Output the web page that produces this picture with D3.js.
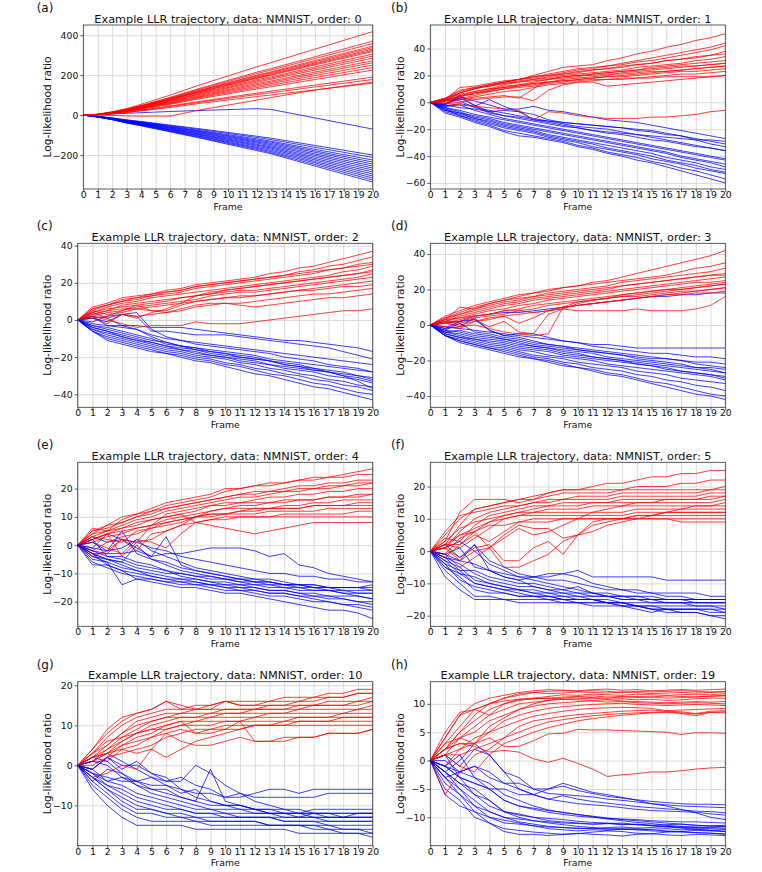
<!DOCTYPE html>
<html>
<head>
<meta charset="utf-8">
<script src="https://cdn.jsdelivr.net/npm/d3@7"></script>
<style>
body { margin: 0; background: #fff; }
text { font-family: "DejaVu Sans", sans-serif; }
</style>
</head>
<body>
<svg id="fig" width="762" height="872"></svg>
<script>

// ---- data ----
var letters = ["(a)", "(b)", "(c)", "(d)", "(e)", "(f)", "(g)", "(h)"];
var orders = [0, 1, 2, 3, 4, 5, 10, 19];
var frames = [0,1,2,3,4,5,6,7,8,9,10,11,12,13,14,15,16,17,18,19,20];
// panel (a) lines are straight, so only these frames were read
var framesA = [0,1,2,3,4,6,8,12,13,16,20];

var yTicksA = [-200, 0, 200, 400];
var yTicksB = [-60, -40, -20, 0, 20, 40];
var yTicksC = [-40, -20, 0, 20, 40];
var yTicksD = [-40, -20, 0, 20, 40];
var yTicksE = [-20, -10, 0, 10, 20];
var yTicksF = [-20, -10, 0, 10, 20];
var yTicksG = [-10, 0, 10, 20];
var yTicksH = [-10, -5, 0, 5, 10];

var redA = [
  [0,4,17,33,54,100,150,242,263,330,418],
  [0,4,15,30,48,89,133,215,233,292,370],
  [0,4,14,29,47,86,129,208,226,283,358],
  [0,3,14,28,45,83,124,200,217,273,345],
  [0,3,14,27,44,81,122,196,213,267,338],
  [0,3,13,26,43,79,119,191,208,261,330],
  [0,3,13,26,42,78,116,187,203,256,324],
  [0,3,13,25,41,76,114,184,200,251,318],
  [0,3,12,24,40,73,110,177,192,241,305],
  [0,3,12,24,38,71,106,171,186,233,295],
  [0,3,11,23,37,68,103,165,180,225,285],
  [0,3,11,22,35,65,98,158,171,215,272],
  [0,3,10,21,34,63,94,152,165,207,262],
  [0,3,10,20,33,60,90,145,158,198,250],
  [0,2,10,19,31,57,86,138,150,188,238],
  [0,2,9,18,29,54,81,131,142,178,225],
  [0,2,8,15,25,46,68,110,120,150,190],
  [0,2,7,14,23,43,64,103,112,141,178],
  [0,0,-2,-4,-5,-5,25,75,88,125,165],
  [0,2,6,13,21,38,58,93,101,126,160]
];
var blueA = [
  [0,-6,-14,-24,-32,-50,-68,-106,-116,-152,-200],
  [0,-6,-15,-25,-34,-53,-72,-112,-123,-161,-212],
  [0,-7,-16,-27,-36,-56,-77,-119,-131,-171,-225],
  [0,-7,-16,-28,-38,-59,-80,-125,-136,-179,-235],
  [0,-7,-17,-29,-39,-61,-83,-130,-142,-186,-245],
  [0,-8,-18,-31,-41,-64,-87,-135,-148,-194,-255],
  [0,-8,-19,-32,-42,-66,-90,-140,-154,-201,-265],
  [0,-8,-19,-33,-44,-69,-94,-146,-160,-209,-275],
  [0,-9,-20,-34,-46,-71,-97,-151,-165,-217,-285],
  [0,-9,-21,-35,-47,-74,-100,-156,-171,-224,-295],
  [0,-9,-21,-37,-49,-76,-104,-162,-177,-232,-305],
  [0,-9,-22,-38,-50,-79,-107,-167,-183,-239,-315],
  [0,-10,-23,-39,-52,-81,-111,-172,-189,-247,-325],
  [0,-10,-23,-40,-54,-84,-114,-178,-194,-255,-335],
  [0,2,5,9,12,18,23,32,28,-14,-70]
];

var redB = [
  [0,3,7,10,13,15,17,20,23,26,27,28,31,33,36,38,41,43,46,48,51],
  [0,2,11,12,14,16,17,19,21,23,25,26,27,29,31,33,35,37,39,41,44],
  [0,3,9,11,13,15,17,18,20,22,24,25,27,28,30,31,33,35,37,39,42],
  [0,1,7,10,12,14,16,17,19,21,22,24,25,27,28,29,31,32,34,35,38],
  [0,2,7,10,13,15,17,19,20,21,23,24,25,26,28,29,31,32,33,35,36],
  [0,2,6,8,10,13,15,17,18,20,21,22,23,24,26,27,28,29,31,32,34],
  [0,1,4,7,9,12,13,15,17,18,19,21,22,23,24,26,27,28,29,30,31],
  [0,0,3,5,8,10,12,14,15,17,18,19,20,22,23,24,25,26,27,28,29],
  [0,1,2,3,4,5,3,10,17,19,20,21,22,23,24,25,26,27,27,28,29],
  [0,1,5,6,9,11,12,13,15,16,17,18,19,20,21,22,23,24,25,26,27],
  [0,3,8,11,12,14,15,16,17,19,20,20,21,21,22,23,23,24,25,26,27],
  [0,2,4,7,8,10,11,12,14,15,17,18,19,19,20,21,22,23,23,24,25],
  [0,-1,2,4,6,8,9,11,13,14,15,16,17,17,18,19,20,21,21,22,23],
  [0,-1,0,2,3,4,4,1,9,13,15,15,12,13,14,15,16,17,18,19,20],
  [0,1,5,8,10,11,13,14,15,16,16,17,17,18,18,18,19,19,19,19,20],
  [0,-1,-2,-3,-4,-5,-6,-13,-7,-8,-10,-11,-12,-12,-12,-11,-11,-10,-9,-7,-6]
];
var blueB = [
  [0,-2,4,1,-2,-5,-5,-3,-6,-7,-9,-11,-13,-14,-15,-17,-19,-21,-23,-25,-27],
  [0,-3,-1,-3,2,-3,-7,-9,-13,-15,-16,-17,-18,-19,-21,-22,-24,-25,-27,-29,-31],
  [0,2,1,-4,-6,-8,-10,-12,-14,-16,-18,-19,-20,-22,-24,-26,-28,-30,-32,-34,-36],
  [0,-4,-6,-9,-11,-13,-15,-17,-19,-21,-23,-25,-27,-29,-31,-33,-35,-37,-39,-41,-43],
  [0,-5,-8,-10,-12,-15,-17,-19,-21,-23,-25,-27,-29,-31,-33,-35,-37,-40,-42,-44,-46],
  [0,-6,-9,-12,-14,-17,-19,-21,-24,-26,-28,-30,-32,-34,-36,-38,-41,-43,-45,-48,-50],
  [0,-7,-10,-13,-16,-19,-21,-23,-26,-28,-30,-33,-35,-37,-39,-42,-44,-46,-49,-51,-53],
  [0,-5,-10,-14,-17,-21,-23,-25,-27,-29,-32,-34,-37,-39,-41,-44,-46,-49,-51,-54,-57],
  [0,-8,-11,-15,-18,-22,-25,-26,-28,-30,-33,-35,-38,-40,-43,-45,-48,-51,-54,-57,-60],
  [0,-1,3,-2,-7,-10,-12,-14,-16,-18,-19,-21,-22,-23,-24,-25,-26,-27,-28,-28,-29],
  [0,-2,5,-3,-8,-10,-11,-13,-15,-17,-19,-21,-23,-24,-26,-28,-29,-31,-33,-34,-36],
  [0,-3,-2,-6,-9,-12,-14,-16,-18,-20,-22,-24,-26,-28,-30,-32,-34,-36,-38,-40,-42],
  [0,-4,-7,-11,-13,-16,-18,-20,-22,-24,-26,-28,-30,-32,-34,-36,-38,-41,-43,-45,-48],
  [0,-6,-8,-12,-15,-18,-20,-22,-25,-27,-29,-31,-34,-36,-38,-40,-43,-45,-47,-50,-52],
  [0,-2,-4,-5,-7,-6,-7,-13,-14,-15,-16,-17,-18,-19,-20,-21,-23,-25,-28,-31,-33]
];

var redC = [
  [0,7,9,12,13,14,16,17,19,20,21,22,23,25,26,28,29,31,33,35,37],
  [0,6,8,11,12,14,15,16,18,19,20,21,22,23,24,26,27,29,30,32,34],
  [0,6,8,10,12,13,15,16,18,19,20,21,22,23,24,25,26,27,28,29,30],
  [0,5,8,10,11,13,14,15,17,18,19,20,21,22,23,24,25,27,28,30,31],
  [0,4,7,9,10,12,13,14,15,16,17,18,19,20,21,22,23,24,26,27,29],
  [0,3,5,8,9,10,11,12,13,14,16,17,18,19,20,21,22,23,24,25,27],
  [0,1,-2,3,1,4,6,9,13,15,16,17,18,19,20,21,22,23,24,25,26],
  [0,4,6,7,8,9,10,12,13,14,15,16,16,17,18,19,20,21,22,23,25],
  [0,2,4,5,7,8,9,10,11,13,14,15,15,16,17,18,19,20,21,22,23],
  [0,5,3,4,6,7,8,9,10,11,12,12,13,14,15,16,17,18,19,20,21],
  [0,1,2,5,8,5,5,8,10,11,12,13,13,14,15,16,16,17,18,18,19],
  [0,2,1,3,2,3,4,5,7,8,9,9,10,11,12,13,14,14,15,16,17],
  [0,3,5,6,6,5,4,6,8,9,9,8,7,8,9,10,11,12,12,13,14],
  [0,2,0,-2,-4,-3,-3,-3,-1,-2,-2,-2,-1,0,1,2,3,4,5,5,6]
];
var blueC = [
  [0,-2,-3,-3,-3,-4,-4,-4,-5,-6,-7,-8,-9,-10,-11,-11,-12,-13,-14,-15,-17],
  [0,-1,2,3,2,-6,-6,-7,-8,-8,-8,-9,-10,-11,-12,-13,-14,-15,-17,-19,-21],
  [0,4,1,-3,-5,-8,-10,-11,-12,-13,-14,-15,-16,-17,-18,-19,-20,-21,-22,-23,-24],
  [0,-3,-5,-7,-9,-11,-12,-14,-15,-16,-17,-18,-19,-21,-22,-23,-24,-25,-26,-27,-28],
  [0,-4,-6,-8,-10,-12,-14,-15,-16,-18,-19,-20,-21,-22,-24,-25,-26,-28,-29,-30,-31],
  [0,-5,-7,-9,-11,-13,-15,-16,-18,-19,-20,-22,-23,-24,-26,-27,-28,-30,-31,-32,-34],
  [0,-5,-8,-10,-12,-14,-16,-17,-19,-20,-21,-23,-24,-26,-27,-29,-30,-32,-33,-35,-36],
  [0,-6,-9,-11,-13,-15,-17,-18,-20,-21,-23,-24,-26,-27,-29,-30,-32,-33,-35,-36,-38],
  [0,-6,-10,-12,-14,-16,-18,-19,-21,-22,-24,-25,-27,-29,-30,-32,-34,-35,-37,-39,-40],
  [0,-6,-11,-13,-15,-17,-18,-20,-22,-23,-25,-27,-29,-30,-32,-34,-36,-37,-39,-41,-43],
  [0,1,-1,3,4,-5,-9,-11,-13,-14,-15,-16,-17,-18,-20,-21,-22,-24,-25,-26,-28],
  [0,2,-3,-4,-5,-9,-12,-14,-15,-17,-18,-19,-20,-22,-23,-24,-26,-27,-28,-30,-32],
  [0,-3,-4,-6,-8,-10,-13,-14,-16,-17,-18,-20,-21,-22,-24,-25,-27,-28,-30,-31,-33],
  [0,-4,-6,-9,-11,-12,-14,-16,-17,-19,-20,-21,-22,-24,-25,-26,-27,-28,-30,-33,-37]
];

var redD = [
  [0,4,7,10,12,14,16,18,20,21,22,24,25,27,29,31,33,35,37,39,42],
  [0,5,8,11,13,15,17,18,19,21,22,23,24,25,26,27,28,30,32,33,35],
  [0,3,10,9,12,14,15,16,18,19,20,21,22,24,25,26,27,28,29,30,32],
  [0,4,6,9,11,13,14,16,17,18,19,20,21,22,23,24,25,26,27,28,29],
  [0,3,6,8,10,12,13,15,16,17,18,19,20,22,23,24,25,26,27,28,28],
  [0,2,5,7,9,11,12,14,15,16,17,18,19,20,21,22,23,24,25,26,27],
  [0,3,4,6,8,9,11,12,14,15,16,17,18,19,20,21,22,23,24,24,25],
  [0,1,3,5,6,8,9,11,12,13,14,15,16,17,18,19,20,20,21,22,23],
  [0,2,2,4,5,6,8,9,11,12,13,14,15,16,16,17,18,19,19,20,21],
  [0,1,0,2,3,5,6,7,8,10,11,12,13,14,15,16,17,17,18,18,19],
  [0,-1,-2,2,4,5,1,4,8,10,11,12,13,14,15,16,17,18,19,20,21],
  [0,1,-1,0,-2,-4,-5,-6,-5,10,13,14,15,16,17,18,19,20,21,22,23],
  [0,2,1,3,-1,2,-4,-5,6,9,12,14,15,17,18,19,20,21,22,23,24],
  [0,2,4,5,6,8,8,7,8,9,8,8,8,8,9,8,8,8,9,11,16]
];
var blueD = [
  [0,1,2,5,6,7,7,8,9,10,11,12,13,14,15,16,16,17,17,18,18],
  [0,-1,-2,-3,-4,-5,-6,-7,-8,-9,-10,-11,-11,-12,-13,-13,-13,-13,-13,-13,-13],
  [0,-2,-1,4,-3,-6,-5,-5,-7,-9,-10,-12,-13,-14,-15,-16,-16,-17,-18,-18,-19],
  [0,-3,-4,-6,-7,-8,-9,-11,-12,-13,-14,-15,-16,-17,-18,-19,-19,-20,-21,-21,-22],
  [0,-4,-5,-7,-8,-9,-11,-12,-13,-14,-15,-16,-18,-19,-20,-21,-22,-23,-24,-24,-25],
  [0,-4,-6,-8,-9,-10,-12,-13,-14,-16,-17,-18,-19,-20,-21,-22,-23,-24,-25,-26,-27],
  [0,-5,-7,-8,-10,-11,-13,-14,-15,-17,-18,-19,-20,-21,-22,-23,-25,-26,-27,-28,-29],
  [0,-5,-7,-9,-11,-12,-14,-15,-17,-18,-19,-20,-22,-23,-24,-25,-26,-27,-28,-29,-31],
  [0,-6,-8,-10,-12,-13,-15,-17,-18,-19,-21,-22,-23,-24,-26,-27,-28,-30,-31,-32,-33],
  [0,-6,-9,-11,-13,-14,-16,-18,-19,-21,-22,-24,-25,-26,-28,-29,-31,-32,-34,-35,-37],
  [0,-6,-9,-11,-13,-15,-17,-19,-20,-22,-24,-25,-27,-28,-30,-32,-33,-35,-37,-39,-40],
  [0,-6,-10,-12,-14,-16,-18,-19,-21,-23,-24,-26,-28,-29,-31,-33,-35,-37,-39,-40,-42],
  [0,-2,2,3,-3,-6,-7,-9,-11,-12,-14,-15,-16,-17,-19,-20,-21,-22,-24,-25,-27],
  [0,-3,1,-4,-5,-7,-8,-10,-11,-12,-13,-14,-15,-16,-17,-18,-19,-20,-22,-23,-24],
  [0,-4,-3,-5,-6,-8,-10,-12,-13,-15,-16,-18,-19,-20,-22,-23,-24,-26,-27,-28,-30]
];

var redE = [
  [0,5,6,8,10,12,14,15,16,17,19,20,21,21,22,23,24,24,25,26,27],
  [0,6,5,9,11,13,15,16,17,18,20,20,21,22,22,23,23,24,24,25,25],
  [0,4,7,8,10,11,13,14,15,16,17,18,19,19,20,21,21,22,22,23,23],
  [0,5,7,10,11,12,13,14,15,16,17,18,18,19,19,20,20,21,21,22,22],
  [0,3,5,7,9,10,12,13,14,15,16,17,17,18,19,19,20,20,21,21,22],
  [0,2,4,6,7,9,10,11,12,14,15,15,16,17,17,18,18,19,19,20,20],
  [0,1,3,4,6,7,9,10,11,12,13,14,14,15,15,16,16,17,17,18,18],
  [0,2,4,-4,1,7,11,12,13,14,14,15,15,15,16,16,16,17,17,17,18],
  [0,3,2,1,5,6,8,9,10,11,11,12,13,13,14,14,15,15,16,16,16],
  [0,-2,1,3,4,6,7,8,10,11,11,12,12,13,13,13,14,14,14,15,15],
  [0,-3,-3,2,-2,4,5,7,10,12,13,13,13,13,13,13,14,14,14,14,14],
  [0,2,4,5,6,7,8,9,10,10,11,11,11,12,12,12,12,13,13,13,13],
  [0,-4,-2,2,1,2,5,7,8,9,10,10,10,10,11,11,11,11,11,12,12],
  [0,1,-1,-3,2,1,-1,4,8,9,9,10,10,10,10,10,10,10,10,10,10],
  [0,4,5,6,8,9,10,11,8,7,6,5,4,5,6,7,8,8,8,8,8]
];
var blueE = [
  [0,-2,-3,-3,-2,-4,-3,-3,-2,-1,-1,-1,-2,-4,-3,-7,-8,-10,-11,-12,-13],
  [0,3,1,2,1,-1,-2,-4,-5,-6,-7,-8,-9,-10,-10,-11,-11,-12,-12,-13,-13],
  [0,-1,4,2,-1,-4,3,-7,-9,-10,-11,-12,-12,-13,-14,-14,-15,-15,-15,-15,-15],
  [0,-3,-5,-6,-8,-9,-10,-10,-11,-12,-12,-13,-14,-14,-15,-15,-15,-16,-16,-16,-16],
  [0,-5,-6,-8,-9,-10,-11,-12,-12,-13,-13,-14,-14,-15,-15,-16,-16,-16,-17,-17,-17],
  [0,-7,-7,-9,-10,-11,-12,-12,-13,-14,-14,-15,-15,-16,-16,-17,-17,-18,-18,-18,-19],
  [0,-4,-6,-14,-12,-12,-13,-13,-14,-14,-15,-16,-16,-17,-17,-18,-18,-19,-19,-20,-20],
  [0,-6,-8,-10,-11,-12,-13,-14,-14,-15,-16,-16,-17,-18,-18,-19,-20,-20,-21,-21,-22],
  [0,-3,-7,-9,-12,-13,-14,-15,-15,-16,-17,-17,-18,-19,-20,-21,-22,-23,-23,-24,-26],
  [0,2,-4,-5,-7,-8,-9,-10,-11,-11,-12,-13,-13,-14,-14,-14,-15,-15,-15,-15,-14],
  [0,-1,-2,5,-3,-5,-6,-8,-9,-10,-11,-12,-13,-13,-14,-15,-16,-16,-17,-18,-19],
  [0,-2,-4,-4,-6,-7,-9,-11,-12,-13,-14,-14,-15,-16,-16,-17,-18,-18,-19,-20,-21],
  [0,-3,-5,-7,-9,-11,-12,-13,-13,-14,-15,-15,-16,-17,-17,-18,-19,-20,-21,-22,-23],
  [0,-4,-5,-6,0,-5,-7,-9,-10,-11,-12,-12,-13,-13,-14,-14,-14,-15,-15,-15,-16],
  [0,1,-2,-1,2,-2,-4,-6,-8,-9,-10,-11,-12,-12,-13,-14,-14,-15,-16,-17,-17]
];

var redF = [
  [0,5,10,13,14,15,16,17,18,19,19,20,21,21,22,23,23,24,24,25,25],
  [0,3,12,16,16,16,15,16,18,19,19,19,19,19,20,20,20,21,21,22,22],
  [0,2,8,13,14,15,16,16,17,18,18,18,18,19,19,19,19,19,19,19,20],
  [0,6,11,12,13,14,14,15,16,16,17,17,17,18,18,18,18,18,18,19,19],
  [0,1,6,10,12,13,14,15,15,16,16,16,16,17,17,17,17,17,17,18,18],
  [0,4,3,8,11,12,13,14,14,15,15,15,15,16,16,16,16,16,16,16,17],
  [0,1,-3,0,1,4,7,5,6,8,10,12,13,14,15,15,16,16,16,17,17],
  [0,-1,4,6,9,11,12,13,14,14,14,15,15,15,15,15,15,15,15,15,16],
  [0,-1,-5,-2,1,-5,-5,-3,-1,3,5,6,8,9,10,11,12,13,14,14,15],
  [0,2,1,4,7,10,11,12,13,13,13,14,14,14,14,14,14,14,14,14,14],
  [0,3,7,9,10,11,12,12,12,12,12,12,12,12,13,13,13,13,13,13,13],
  [0,1,5,7,9,10,11,11,11,11,11,11,11,11,12,12,12,12,12,12,12],
  [0,2,2,6,1,5,8,7,7,4,5,8,9,10,11,11,12,12,12,12,12],
  [0,-2,2,5,3,6,9,10,10,10,10,10,10,10,11,11,11,11,11,11,11],
  [0,2,5,6,8,8,9,9,9,10,10,10,10,10,10,10,10,10,10,10,10],
  [0,1,-2,1,2,-3,-3,1,3,-1,5,9,10,10,10,10,10,9,9,9,9]
];
var blueF = [
  [0,-2,-3,-4,-6,-7,-8,-8,-8,-7,-6,-8,-8,-8,-8,-8,-9,-9,-9,-9,-9],
  [0,2,-2,2,-6,-8,-9,-8,-7,-7,-8,-10,-11,-12,-12,-13,-13,-13,-13,-14,-14],
  [0,-3,-5,-9,-10,-11,-12,-12,-13,-13,-14,-14,-14,-15,-15,-15,-15,-15,-15,-15,-15],
  [0,-5,-8,-12,-13,-13,-14,-14,-14,-15,-15,-15,-16,-16,-16,-16,-16,-16,-16,-16,-16],
  [0,-6,-10,-14,-14,-15,-15,-15,-15,-16,-16,-16,-16,-16,-17,-17,-17,-17,-17,-17,-17],
  [0,-8,-12,-15,-15,-15,-16,-16,-16,-16,-16,-17,-17,-17,-17,-18,-18,-18,-18,-18,-18],
  [0,-4,-6,-10,-11,-12,-13,-14,-14,-15,-15,-15,-16,-16,-17,-17,-18,-18,-18,-19,-19],
  [0,-3,-7,-8,-10,-11,-12,-13,-14,-14,-15,-15,-15,-16,-17,-18,-18,-19,-19,-20,-21],
  [0,-1,1,-5,-6,-8,-9,-11,-12,-13,-13,-14,-14,-15,-15,-15,-16,-16,-16,-16,-16],
  [0,1,3,0,-4,-6,-8,-9,-10,-11,-12,-13,-13,-14,-14,-14,-15,-15,-15,-15,-15],
  [0,-2,-4,-7,-9,-10,-11,-11,-12,-12,-13,-13,-14,-14,-15,-16,-16,-16,-17,-17,-18],
  [0,-4,-9,-11,-12,-13,-14,-14,-15,-15,-16,-16,-16,-17,-17,-18,-19,-19,-19,-20,-20],
  [0,-1,-3,2,-3,-5,-7,-8,-9,-9,-10,-11,-12,-12,-13,-13,-14,-14,-15,-15,-15],
  [0,-5,-7,-10,-11,-12,-12,-13,-13,-14,-14,-15,-16,-17,-18,-19,-18,-18,-18,-18,-19],
  [0,-2,-6,-6,-8,-9,-10,-10,-11,-12,-11,-13,-14,-14,-14,-15,-15,-15,-16,-16,-16]
];

var redG = [
  [0,3,7,10,12,13,14,14,15,15,16,16,16,16,17,17,17,18,18,19,19],
  [0,4,9,12,13,14,16,14,14,15,16,15,15,16,16,16,17,17,17,18,18],
  [0,4,8,11,13,14,16,15,14,14,16,15,15,15,15,16,16,17,17,18,18],
  [0,2,5,8,11,12,13,13,14,14,14,14,14,15,15,15,15,16,16,16,17],
  [0,3,5,8,10,11,12,12,12,13,13,13,14,14,14,15,15,15,15,16,16],
  [0,1,4,7,9,11,12,13,13,13,14,14,14,14,14,14,15,15,15,15,16],
  [0,2,3,6,8,10,11,12,12,12,13,13,13,13,13,14,14,14,14,14,15],
  [0,-1,2,5,7,8,10,11,11,12,12,12,12,13,13,13,13,13,13,14,14],
  [0,1,1,4,5,7,9,10,11,11,11,11,12,12,12,12,12,12,13,13,13],
  [0,3,6,7,8,9,9,10,10,10,11,11,11,11,11,12,12,12,12,12,12],
  [0,1,3,4,3,4,2,4,6,7,8,9,10,10,11,11,11,11,12,12,12],
  [0,0,2,3,4,5,7,8,9,9,10,10,10,10,10,11,11,11,11,11,11],
  [0,2,3,5,6,7,8,9,8,9,9,9,10,10,10,10,10,10,10,10,10],
  [0,2,4,6,8,9,10,11,8,8,9,11,6,6,7,7,7,8,8,8,9],
  [0,-3,-2,0,-1,4,8,6,5,5,6,7,6,6,6,7,7,8,8,8,9]
];
var blueG = [
  [0,-2,-3,-4,-4,-5,-5,-6,-7,-7,-8,-8,-7,-6,-6,-7,-6,-6,-6,-6,-6],
  [0,-1,2,-1,1,-2,-4,-3,-5,-6,-8,-7,-8,-8,-8,-8,-8,-7,-7,-7,-7],
  [0,1,3,1,-1,-3,-4,-4,0,-2,-5,-7,-9,-10,-11,-11,-12,-12,-12,-12,-12],
  [0,-2,-4,-3,-5,-6,-6,-8,-9,-1,-9,-10,-11,-12,-12,-13,-12,-13,-13,-13,-13],
  [0,-3,-6,-9,-11,-11,-12,-12,-13,-13,-13,-13,-13,-13,-14,-14,-14,-14,-14,-14,-14],
  [0,-5,-8,-11,-13,-14,-14,-14,-14,-15,-15,-15,-15,-15,-15,-15,-15,-15,-16,-16,-16],
  [0,-6,-10,-13,-15,-15,-15,-15,-16,-16,-16,-16,-16,-16,-16,-17,-17,-17,-17,-17,-17],
  [0,-4,-7,-10,-12,-12,-13,-13,-14,-14,-14,-14,-14,-15,-15,-15,-16,-16,-17,-17,-18],
  [0,-2,-5,-7,-9,-10,-11,-11,-12,-12,-13,-13,-13,-13,-13,-13,-13,-13,-13,-12,-12],
  [0,2,1,-2,-5,-7,-8,-9,-10,-11,-11,-11,-12,-12,-12,-12,-11,-11,-11,-11,-11],
  [0,-1,-4,-5,-7,-8,-9,-10,-11,-11,-12,-12,-12,-12,-13,-13,-13,-14,-14,-14,-14],
  [0,-3,-5,-6,-8,-9,-10,-11,-12,-12,-12,-13,-13,-13,-14,-14,-14,-15,-15,-15,-15],
  [0,1,0,-3,-4,-6,-7,-8,-9,-10,-10,-11,-11,-12,-12,-12,-13,-13,-13,-13,-13],
  [0,-1,2,0,0,-2,-3,-6,-8,-9,-10,-10,-11,-11,-12,-12,-12,-12,-13,-13,-13],
  [0,-3,-6,-8,-10,-11,-12,-13,-13,-14,-14,-14,-14,-15,-15,-15,-15,-16,-16,-16,-17],
  [0,-4,-1,-2,-4,-3,-5,-7,-6,-9,-10,-10,-11,-11,-11,-12,-12,-12,-12,-12,-12]
];

var redH = [
  [0,4,8,10,11,11.5,12,12.3,12.5,12.4,12.3,12.5,12.6,12.4,12.5,12.3,12.4,12.5,12.4,12.5,12.6],
  [0,3,6,9,10,11,11.8,12,11.8,11.9,12.1,12,11.9,12.1,12,11.8,11.9,12,11.9,12,12.1],
  [0,5,8.5,9,10,11,11.5,12,12.2,12.3,12.2,12.3,12.2,12,12.2,12.1,12.2,12.3,12.2,12.1,12.2],
  [0,4,8,9,8,10,10.8,11,11.3,11.6,11.5,11.7,11.6,11.5,11.7,11.6,11.5,11.6,11.7,11.6,11.8],
  [0,2,4,3,6,7.5,9,10,10.6,11,11.2,11.1,11,11.2,11.3,11.2,11.4,11.3,11.2,11.4,11.5],
  [0,2,5,7,9,10,10.6,10.9,11,11.2,11.3,11.4,11.2,11.3,11.1,11.2,11,11.1,11.2,11.3,11.4],
  [0,1,4,6,8,9,10,10.3,10.6,10.8,10.9,11,10.8,10.9,10.7,10.8,10.6,10.7,10.9,11,11],
  [0,2,5,8,10,10.5,10.8,10.9,11,10.8,10.7,10.6,10.7,10.5,10.4,10.3,10.2,10.3,10.4,10.3,10.4],
  [0,3,4,5,7,8,9,9.6,10,10.2,10.4,10.5,10.3,10.4,10.2,10.1,10,10.1,10.2,10.1,10],
  [0,-1,2,4,5,7,8,8.7,9.2,9.5,9.7,9.9,10,10.1,9.9,9.8,9.7,9.8,9.9,9.8,9.7],
  [0,2,3,3,5,6,7,7.8,8.3,8.7,9,9.2,9.3,9.4,9.3,9.2,8.8,8.9,9,9.1,9.2],
  [0,1,1,2,3,4,6,7,7.4,7.8,8.1,8.3,8.5,8.7,8.8,8.9,8.7,8.6,8.3,8.7,8.8],
  [0,-6,-2,1,2,4,5,6,6.8,7.2,7.6,7.9,8.1,8.3,8.4,8.5,8.6,8.4,8.2,8.5,8.6],
  [0,1,-1,-2,1,3,4,5,5.8,6.4,7,7.4,7.7,8,8.2,8.4,8.5,8.3,7.9,8.5,8.4],
  [0,1,2,3,4,2.5,2.5,3.5,4.7,4.8,5.5,5.4,5.4,5.3,5.2,5.1,5,4.6,4.9,4.9,4.8],
  [0,2,3,2.5,1.5,1.8,1.5,0.3,-0.3,0.4,-0.5,-1.5,-2.8,-2.5,-2.3,-2,-2,-1.8,-1.5,-1.3,-1.2]
];
var blueH = [
  [0,-1,-2,-1,-2,-4,-4,-5,-5,-4.5,-5.3,-5.8,-6.3,-6.6,-6.9,-7.2,-7.4,-7.6,-7.7,-7.7,-7.8],
  [0,1,-1,2,1,-2,-3,-5,-5.8,-6,-6.2,-6.4,-6.8,-7,-7.3,-7.6,-7.8,-8,-8.1,-8.2,-8.3],
  [0,-2,0,3,1,-2,-5,-6,-6.8,-7.2,-7.6,-7.8,-8,-8.3,-8.6,-8.8,-8.9,-9,-9.1,-9.4,-9.6],
  [0,-3,-5,-7,-9,-10,-10.3,-10.6,-10.8,-11,-11.1,-11.2,-11.1,-11.3,-11.2,-11.4,-11.3,-11.2,-11.4,-11.5,-11.4],
  [0,-4,-6,-8,-10,-11,-11.2,-11.5,-11.7,-11.8,-12,-11.9,-12.1,-12,-12.2,-12.1,-12,-12.2,-12.1,-12.3,-12.2],
  [0,-6,-8,-9,-11,-12,-12.3,-12.6,-12.8,-13,-12.9,-12.6,-12.4,-12.5,-12.8,-12.9,-12.6,-12.5,-12.7,-12.8,-12.9],
  [0,-2,-4,-6,-7,-9,-10,-10.6,-11,-11.3,-11.6,-11.8,-12,-12.1,-12.2,-12.4,-12.5,-12.6,-12.7,-12.8,-13],
  [0,-1,-3,-4,-5,-7,-8,-8.6,-9.1,-9.5,-9.8,-10,-10.2,-10.3,-10.4,-10.6,-10.7,-10.8,-10.8,-10.9,-11],
  [0,0,-2,-3,-4,-6,-7,-8,-8.7,-9.2,-9.5,-9.9,-10.3,-10.6,-10.9,-11.1,-11.4,-11.6,-11.7,-11.8,-11.9],
  [0,-2,-5,-8,-9,-10,-10.8,-11.2,-11.6,-11.8,-11.9,-12,-11.8,-11.7,-11.9,-11.8,-11.6,-11.7,-11.8,-11.7,-11.6],
  [0,1,-3,-6,-8,-9,-9.6,-10,-10.2,-10.4,-10.7,-10.9,-11,-11.2,-11.3,-11.4,-11.6,-11.8,-11.9,-12,-12.1],
  [0,-1,1,-3,-5,-7,-8,-8.4,-8.8,-9.1,-9.5,-9.8,-10.1,-10.4,-10.6,-10.8,-11,-11.2,-11.4,-11.5,-11.6],
  [0,-3,-2,-1,-3,-4,-5,-6,-6.8,-6.2,-6.8,-7.2,-7.5,-7.8,-8.1,-8.3,-8.5,-8.7,-8.9,-9,-9.2],
  [0,-1,-3,-4,-5,-5,-6,-6,-5,-4,-4.8,-5.6,-6,-6.5,-7,-7.6,-8,-8.6,-9.2,-10,-10.4],
  [0,-2,-4,-5,-7,-9,-9.4,-10,-10.6,-10.8,-11,-11.2,-11.1,-11,-11.3,-11.5,-11.7,-11.9,-12.1,-12.3,-12.5],
  [0,-5,-7,-10,-11,-12.5,-13,-13,-13.2,-13,-12.8,-13,-13.1,-13.3,-13,-12.9,-13.1,-13.2,-13,-13.1,-13.2],
  [0,-3,-6,-9,-10,-10.5,-11,-11.5,-12,-12.2,-12.4,-12.2,-12.3,-12.1,-12,-12.2,-12.4,-12.5,-12.3,-12.4,-12.5]
];

// ---- layout (pixel boxes measured on the reference) ----
var plotH = 164;
var rowTop = [25, 243.3, 462.3, 681.7];
var layout = [
  {x0: 83.3,  x1: 372.7, dom: [-370, 451]},
  {x0: 430.3, x1: 725.3, dom: [-64.5, 57.5]},
  {x0: 77.7,  x1: 372.7, dom: [-47, 41.3]},
  {x0: 430.3, x1: 725.3, dom: [-46.4, 46]},
  {x0: 77.7,  x1: 372.7, dom: [-28.7, 29.3]},
  {x0: 430.3, x1: 725.3, dom: [-23.3, 27.5]},
  {x0: 77.7,  x1: 372.7, dom: [-20.1, 20.9]},
  {x0: 430.3, x1: 725.3, dom: [-15, 13.9]}
];

var reds = [redA, redB, redC, redD, redE, redF, redG, redH];
var blues = [blueA, blueB, blueC, blueD, blueE, blueF, blueG, blueH];
var yTicks = [yTicksA, yTicksB, yTicksC, yTicksD, yTicksE, yTicksF, yTicksG, yTicksH];

var svg = d3.select("#fig");
svg.append("rect").attr("width", 762).attr("height", 872).attr("fill", "#fff");

function fmt(v) { return v < 0 ? "\u2212" + Math.abs(v) : String(v); }

function drawPanel(i) {
  var L = layout[i];
  var col = i % 2, row = Math.floor(i / 2);
  var top = rowTop[row], bottom = top + plotH;
  var fr = i == 0 ? framesA : frames;

  var x = d3.scaleLinear().domain([0, 20]).range([L.x0, L.x1]);
  var y = d3.scaleLinear().domain(L.dom).range([bottom, top]);
  var g = svg.append("g");

  // grid
  g.append("g")
    .attr("transform", "translate(0," + bottom + ")")
    .call(d3.axisBottom(x).tickValues(frames).tickSize(-plotH).tickFormat(""))
    .call(function(a) { a.select(".domain").remove(); a.selectAll("line").attr("stroke", "#d6d6d6").attr("stroke-width", 0.9); });
  g.append("g")
    .attr("transform", "translate(" + L.x0 + ",0)")
    .call(d3.axisLeft(y).tickValues(yTicks[i]).tickSize(-(L.x1 - L.x0)).tickFormat(""))
    .call(function(a) { a.select(".domain").remove(); a.selectAll("line").attr("stroke", "#d6d6d6").attr("stroke-width", 0.9); });

  // trajectories, red and blue interleaved
  var line = d3.line().x(function(d, j) { return x(fr[j]); }).y(function(d) { return y(d); });
  var R = reds[i], B = blues[i];
  var n = Math.max(R.length, B.length);
  for (var k = 0; k < n; k++) {
    if (k < R.length) g.append("path").attr("d", line(R[k])).attr("fill", "none")
      .attr("stroke", "#ff0000").attr("stroke-width", 0.9).attr("stroke-opacity", 0.85).attr("stroke-linejoin", "round");
    if (k < B.length) g.append("path").attr("d", line(B[k])).attr("fill", "none")
      .attr("stroke", "#0000ff").attr("stroke-width", 0.9).attr("stroke-opacity", 0.85).attr("stroke-linejoin", "round");
  }

  // frame
  g.append("rect").attr("x", L.x0).attr("y", top).attr("width", L.x1 - L.x0).attr("height", plotH)
    .attr("fill", "none").attr("stroke", "#333").attr("stroke-width", 0.8);

  // axes
  var xa = g.append("g").attr("transform", "translate(0," + bottom + ")")
    .call(d3.axisBottom(x).tickValues(frames).tickSize(3).tickSizeOuter(0));
  xa.selectAll("text").attr("y", 9).attr("dy", null);
  var ya = g.append("g").attr("transform", "translate(" + L.x0 + ",0)")
    .call(d3.axisLeft(y).tickValues(yTicks[i]).tickFormat(fmt).tickSize(3).tickPadding(2).tickSizeOuter(0));
  [xa, ya].forEach(function(a) {
    a.select(".domain").remove();
    a.attr("font-family", "DejaVu Sans").attr("font-size", 9.3);
    a.selectAll("line").attr("stroke", "#333").attr("stroke-width", 0.8);
    a.selectAll("text").attr("fill", "#111");
  });

  var cx = (L.x0 + L.x1) / 2;
  g.append("text").attr("x", cx).attr("y", bottom + 20.7).attr("text-anchor", "middle")
    .attr("font-size", 9.3).attr("fill", "#111").text("Frame");
  var lx = col == 0 ? 51 : 404;
  g.append("text").attr("transform", "translate(" + lx + "," + (top + plotH / 2) + ") rotate(-90)")
    .attr("text-anchor", "middle").attr("font-size", 10.6).attr("fill", "#111").text("Log-likelihood ratio");
  g.append("text").attr("x", cx).attr("y", top - 2.5).attr("text-anchor", "middle")
    .attr("font-size", 11.3).attr("fill", "#111")
    .text("Example LLR trajectory, data: NMNIST, order: " + orders[i]);
  g.append("text").attr("x", col == 0 ? 36.7 : 391).attr("y", top - 13)
    .attr("font-size", 12).attr("fill", "#111").text(letters[i]);
}

for (var i = 0; i < 8; i++) drawPanel(i);
</script>
</body>
</html>
